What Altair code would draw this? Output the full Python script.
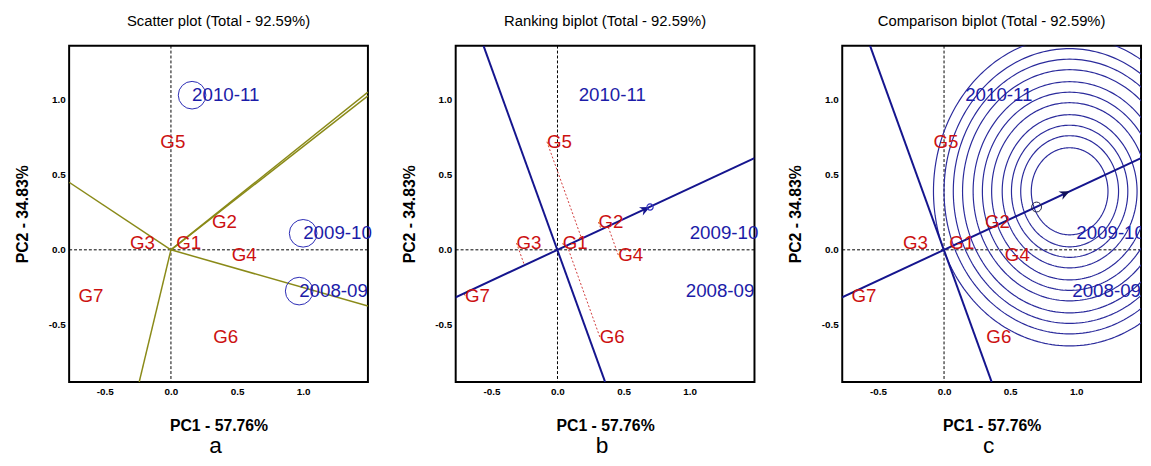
import altair as alt
import pandas as pd
import numpy as np

FONT = "Liberation Sans"

# ---- data ----
geno = ["G1", "G2", "G3", "G4", "G5", "G6", "G7"]
geno_pc1 = [0.04, 0.31, -0.31, 0.46, -0.08, 0.32, -0.70]
geno_pc2 = [0.045, 0.185, 0.045, -0.035, 0.72, -0.58, -0.305]

env = ["2008-09", "2009-10", "2010-11"]
env_pc1 = [0.97, 1.00, 0.16]
env_pc2 = [-0.275, 0.11, 1.03]

# which-won-where rays from the origin (end points at the plot edge)
ray_pc1 = [1.49, 1.49, -0.77, 1.49, -0.24]
ray_pc2 = [1.05, 1.025, 0.45, -0.375, -0.88]

# average-environment axis and its perpendicular
aea_pc1 = [-0.78, 1.49]
aea_pc2 = [-0.32, 0.611]
perp_pc1 = [-0.56, 0.36]
perp_pc2 = [1.36, -0.88]
avg_env = [0.70, 0.285]
ideal = [0.95, 0.39]
ring_radii = [0.29, 0.37, 0.44, 0.51, 0.59, 0.66, 0.73, 0.81, 0.88, 0.95, 1.03]

x_ticks = [-0.5, 0.0, 0.5, 1.0]
y_ticks = [-0.5, 0.0, 0.5, 1.0]
x_domain = [-0.77, 1.49]
y_domain = [-0.88, 1.36]

RED = "#cc1111"
BLUE_TXT = "#1c1ca8"
BLUE_LINE = "#15158e"
OLIVE = "#8a8a18"

W, H = 303, 341

lab_expr = "(datum.value < 0 ? '-' : '') + format(abs(datum.value), '.1f')"


def X():
    return alt.X("pc1:Q", scale=alt.Scale(domain=x_domain, nice=False, zero=False),
                 axis=alt.Axis(values=x_ticks, labelExpr=lab_expr, title="PC1 - 57.76%",
                               grid=False, ticks=False, domain=False, labelPadding=5,
                               titlePadding=21, labelFont=FONT, labelFontSize=10,
                               labelFontWeight="bold", labelColor="black",
                               titleFont=FONT, titleFontSize=16, titleFontWeight="bold",
                               titleColor="black"))


def Y():
    return alt.Y("pc2:Q", scale=alt.Scale(domain=y_domain, nice=False, zero=False),
                 axis=alt.Axis(values=y_ticks, labelExpr=lab_expr, title="PC2 - 34.83%",
                               grid=False, ticks=False, domain=False, labelPadding=4,
                               titlePadding=18, labelFont=FONT, labelFontSize=10,
                               labelFontWeight="bold", labelColor="black",
                               titleFont=FONT, titleFontSize=16, titleFontWeight="bold",
                               titleColor="black"))


geno_df = pd.DataFrame({"name": geno, "pc1": geno_pc1, "pc2": geno_pc2})
env_df = pd.DataFrame({"name": env, "pc1": env_pc1, "pc2": env_pc2})

rows = []
for i, (ex, ey) in enumerate(zip(ray_pc1, ray_pc2)):
    rows.append({"ray": i, "o": 0, "pc1": 0.0, "pc2": 0.0})
    rows.append({"ray": i, "o": 1, "pc1": ex, "pc2": ey})
ray_df = pd.DataFrame(rows)

aea_df = pd.DataFrame({"line": ["aea", "aea", "perp", "perp"], "o": [0, 1, 0, 1],
                       "pc1": aea_pc1 + perp_pc1, "pc2": aea_pc2 + perp_pc2})

# projections of genotypes on the average-environment axis
u = np.array(avg_env) / np.linalg.norm(avg_env)
prow = []
for g, gx, gy in zip(geno, geno_pc1, geno_pc2):
    d = gx * u[0] + gy * u[1]
    prow.append({"g": g, "o": 0, "pc1": gx, "pc2": gy})
    prow.append({"g": g, "o": 1, "pc1": d * u[0], "pc2": d * u[1]})
proj_df = pd.DataFrame(prow)

theta = np.linspace(0, 2 * np.pi, 241)
rrow = []
for k, r in enumerate(ring_radii):
    for j, t in enumerate(theta):
        rrow.append({"ring": k, "o": j, "pc1": ideal[0] + r * np.cos(t),
                     "pc2": ideal[1] + r * np.sin(t)})
ring_df = pd.DataFrame(rrow)

zero_x = pd.DataFrame({"pc1": [0.0]})
zero_y = pd.DataFrame({"pc2": [0.0]})
avg_df = pd.DataFrame({"pc1": [avg_env[0]], "pc2": [avg_env[1]]})
ideal_df = pd.DataFrame({"pc1": [ideal[0]], "pc2": [ideal[1]]})

ARROW = "M0,0L-1,-0.45L-0.7,0L-1,0.45Z"
ang = float(np.degrees(np.arctan2(avg_env[1] * H / (y_domain[1] - y_domain[0]),
                                  avg_env[0] * W / (x_domain[1] - x_domain[0]))))
ARROW_ANGLE = 360 - ang


def zero_lines():
    vx = alt.Chart(zero_x).mark_rule(color="black", strokeDash=[3, 2], strokeWidth=1).encode(x=X())
    hy = alt.Chart(zero_y).mark_rule(color="black", strokeDash=[3, 2], strokeWidth=1).encode(y=Y())
    return [vx, hy]


def geno_text():
    return alt.Chart(geno_df).mark_text(align="left", baseline="middle", font=FONT,
                                        fontSize=19, color=RED).encode(x=X(), y=Y(), text="name:N")


def env_text(clip=False):
    return alt.Chart(env_df).mark_text(align="left", baseline="middle", font=FONT,
                                       fontSize=19, color=BLUE_TXT, clip=clip).encode(
        x=X(), y=Y(), text="name:N")


def axis_lines():
    return alt.Chart(aea_df).mark_line(color=BLUE_LINE, strokeWidth=2, clip=True).encode(
        x=X(), y=Y(), detail="line:N", order="o:Q")


def panel(layers, title, letter):
    inner = alt.layer(*layers).properties(
        width=W, height=H,
        title=alt.TitleParams(title, font=FONT, fontSize=15, fontWeight="normal",
                              color="black", offset=16, anchor="middle", frame="group"))
    return alt.vconcat(inner).properties(
        title=alt.TitleParams(letter, orient="bottom", font=FONT, fontSize=23,
                              fontWeight="normal", color="black", offset=1,
                              anchor="middle", frame="group", dx=W / 2 - 3))


# ---- panel a ----
rays = alt.Chart(ray_df).mark_line(color=OLIVE, strokeWidth=1.5, clip=True).encode(
    x=X(), y=Y(), detail="ray:N", order="o:Q")
env_circ = alt.Chart(env_df).mark_point(shape="circle", size=784, filled=False,
                                        color="#2a2ab4", strokeWidth=1, opacity=1).encode(
    x=X(), y=Y())
pa = panel(zero_lines() + [rays, env_circ, geno_text(), env_text()],
           "Scatter plot (Total - 92.59%)", "a")

# ---- panel b ----
proj = alt.Chart(proj_df).mark_line(color="#d03a3a", strokeWidth=1, strokeDash=[2, 2]).encode(
    x=X(), y=Y(), detail="g:N", order="o:Q")
arrow_b = alt.Chart(avg_df).mark_point(shape=ARROW, size=420, filled=True, color=BLUE_LINE,
                                       angle=ARROW_ANGLE, opacity=1).encode(x=X(), y=Y())
dot_b = alt.Chart(avg_df).mark_point(shape="circle", size=40, filled=False, color="#3030c0",
                                     strokeWidth=1.2, opacity=1).encode(x=X(), y=Y())
pb = panel(zero_lines() + [proj, axis_lines(), arrow_b, dot_b, geno_text(), env_text()],
           "Ranking biplot (Total - 92.59%)", "b")

# ---- panel c ----
rings = alt.Chart(ring_df).mark_line(color="#2b2b9c", strokeWidth=1.2, clip=True).encode(
    x=X(), y=Y(), detail="ring:N", order="o:Q")
arrow_c = alt.Chart(ideal_df).mark_point(shape=ARROW, size=420, filled=True, color="#10105a",
                                         angle=ARROW_ANGLE, opacity=1).encode(x=X(), y=Y())
dot_c = alt.Chart(avg_df).mark_point(shape="circle", size=100, filled=False, color="#222244",
                                     strokeWidth=1, opacity=1).encode(x=X(), y=Y())
pc = panel(zero_lines() + [rings, axis_lines(), arrow_c, dot_c, geno_text(), env_text(True)],
           "Comparison biplot (Total - 92.59%)", "c")

chart = alt.hconcat(pa, pb, pc, spacing=26).properties(
    padding={"left": 5, "top": 2, "right": 0, "bottom": 0},
    background="white",
).configure_view(stroke="black", strokeWidth=2)

chart.save("out.html", embed_options={"renderer": "svg", "actions": False})
